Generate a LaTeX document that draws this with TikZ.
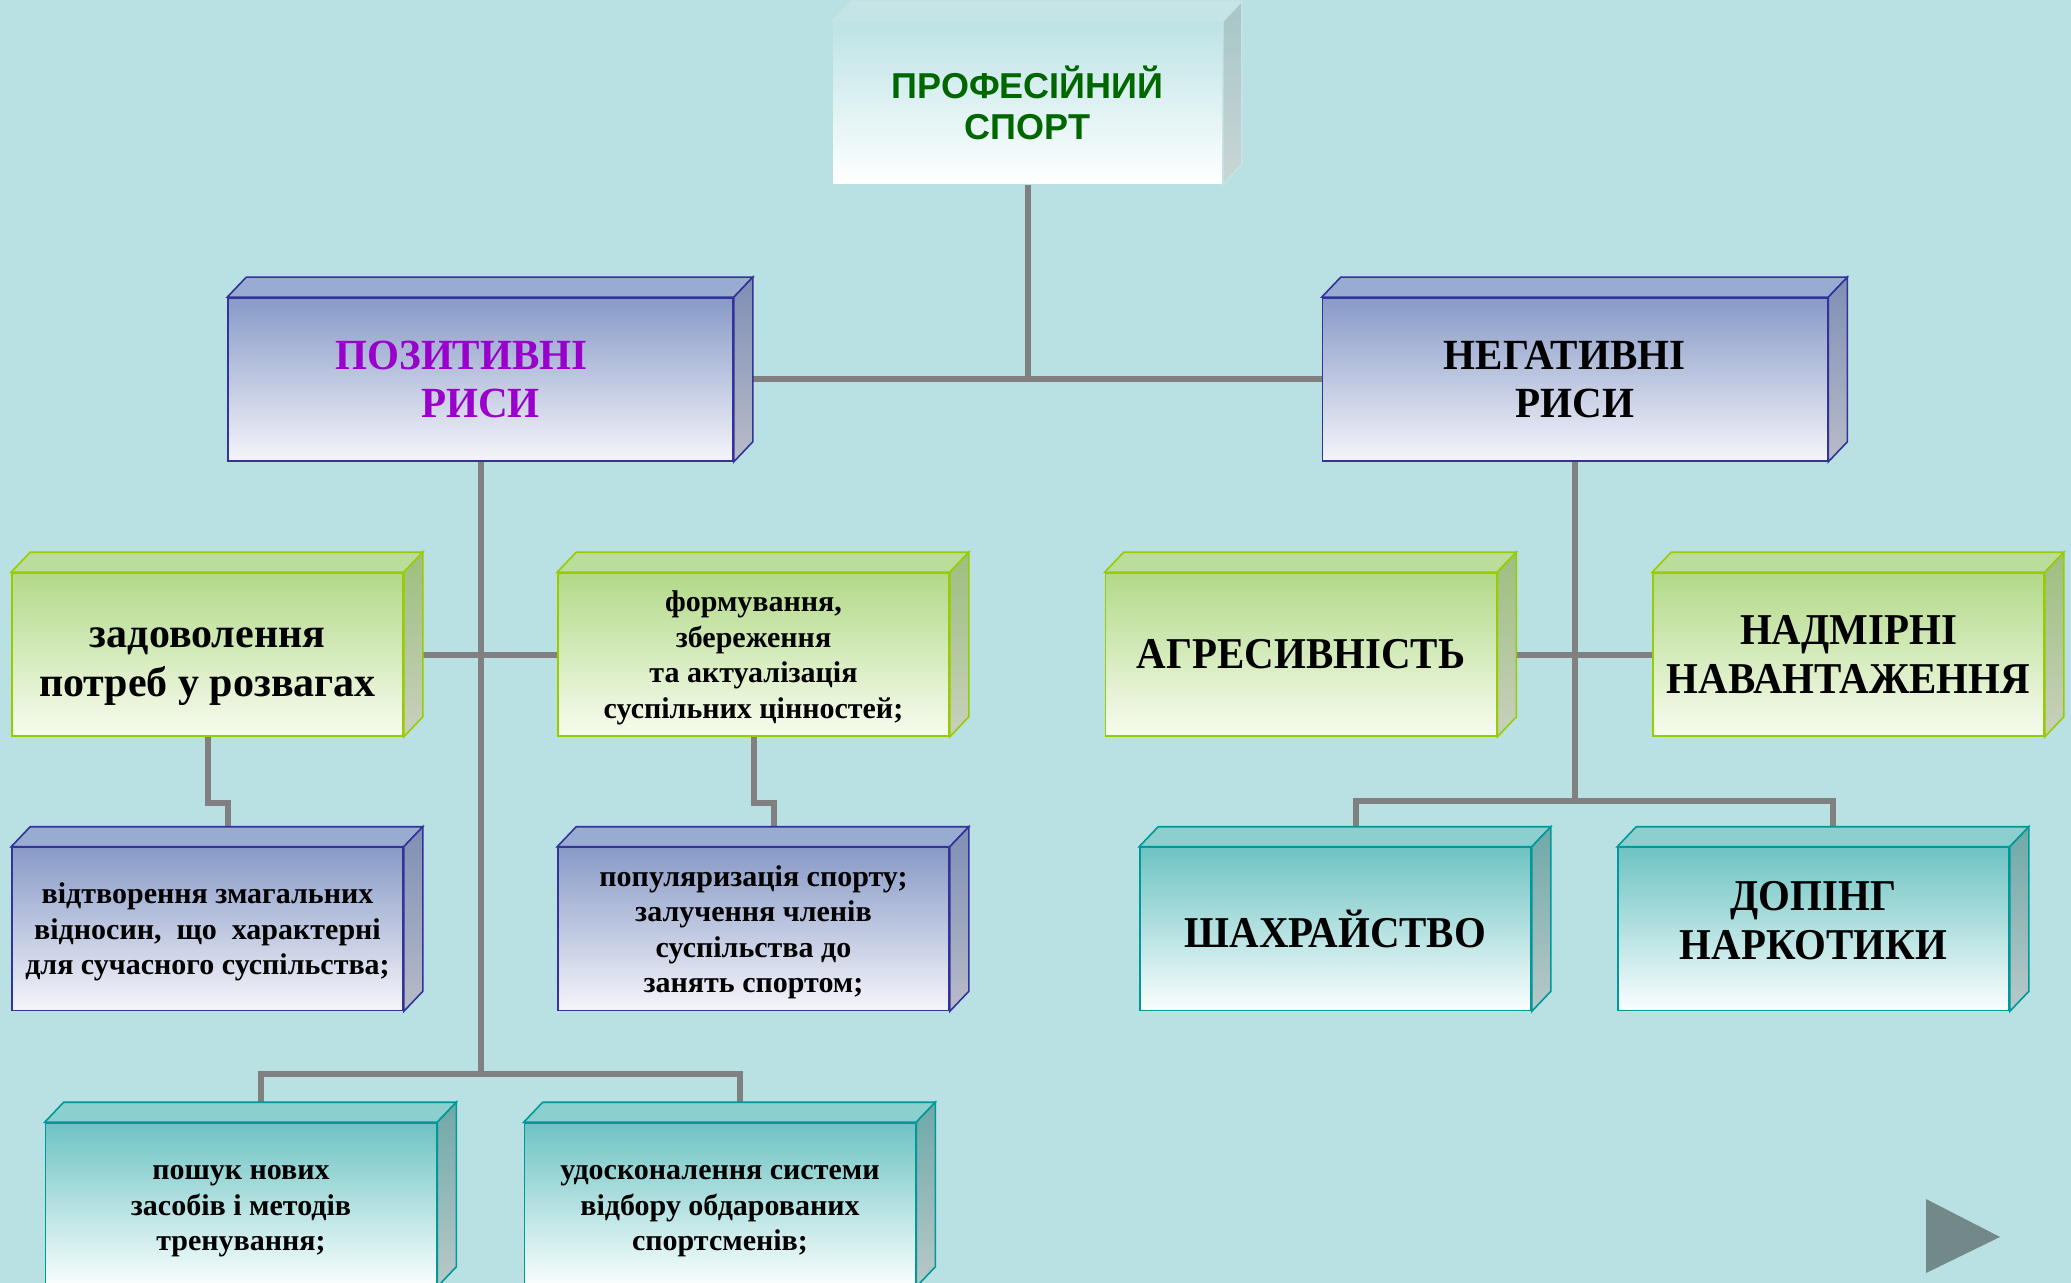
\documentclass[tikz,border=0pt]{standalone}
\usepackage{fontspec}
\setmainfont{Liberation Serif}
\newfontfamily\arialfont{Liberation Sans}
\newfontfamily\headfont[FakeStretch=0.955]{Liberation Serif}
\newfontfamily\capsfont[FakeStretch=0.93]{Liberation Serif}
\usetikzlibrary{calc}
\definecolor{slidebg}{HTML}{B9E0E3}
\definecolor{linkgray}{HTML}{808080}
\definecolor{navgray}{HTML}{738989}
\definecolor{ttltext}{HTML}{006600}
\definecolor{posviolet}{HTML}{9900CC}
% title box
\definecolor{ttledge}{HTML}{C4E4E6}
\definecolor{ttlhi}{HTML}{BDE3E5}
\definecolor{ttllo}{HTML}{FFFFFF}
\definecolor{ttltop}{HTML}{C4E4E6}
\definecolor{ttlside}{HTML}{A6C6C7}
\definecolor{ttlsidelo}{HTML}{CAD6D6}
% green boxes
\definecolor{grnedge}{HTML}{99CC00}
\definecolor{grnhi}{HTML}{B2D988}
\definecolor{grnlo}{HTML}{F8FCF0}
\definecolor{grntop}{HTML}{BADD9C}
\definecolor{grnside}{HTML}{9DBF7D}
\definecolor{grnsidelo}{HTML}{C9D0BF}
% blue boxes
\definecolor{bluedge}{HTML}{333399}
\definecolor{bluhi}{HTML}{889AC7}
\definecolor{blulo}{HTML}{F5F5FA}
\definecolor{blutop}{HTML}{98ACD1}
\definecolor{bluside}{HTML}{7E8EB5}
\definecolor{blusidelo}{HTML}{B9BCC8}
% teal boxes
\definecolor{tealedge}{HTML}{009999}
\definecolor{tealhi}{HTML}{6EC3C3}
\definecolor{teallo}{HTML}{FAFEFE}
\definecolor{tealtop}{HTML}{8BCFCF}
\definecolor{tealside}{HTML}{6EA8A8}
\definecolor{tealsidelo}{HTML}{B9C9C9}
\pgfdeclarelayer{background}
\pgfsetlayers{background,main}
\tikzstyle{link}=[linkgray,line width=3pt]
\tikzstyle{front}=[rectangle,inner sep=0pt,align=center,line width=0.8pt,
  minimum width=195.5pt,minimum height=81.5pt,
  font=\bfseries\fontsize{15}{17.75}\selectfont]
\tikzstyle{ttl}=[front,top color=ttlhi,bottom color=ttllo,minimum width=194.5pt,minimum height=81pt,
  font=\arialfont\bfseries\fontsize{18}{20.5}\selectfont,text=ttltext]
\tikzstyle{grn}=[front,draw=grnedge,top color=grnhi,bottom color=grnlo]
\tikzstyle{blu}=[front,draw=bluedge,top color=bluhi,bottom color=blulo]
\tikzstyle{teal}=[front,draw=tealedge,top color=tealhi,bottom color=teallo]
\tikzstyle{wide}=[minimum width=252.5pt,font=\headfont\bfseries\fontsize{21.5}{24}\selectfont]
\tikzstyle{big}=[font=\bfseries\fontsize{21}{24.5}\selectfont]
\tikzstyle{caps}=[font=\capsfont\bfseries\fontsize{22}{24.5}\selectfont]
% box with a top and a side face: [extra]{kind}{name}{at}{text}
\newcommand\cuboid[5][]{{
  \node[#2,#1] (#3) at (#4) {#5};
  \draw[#2edge,line width=0.8pt,fill=#2top]
    (#3.north west) -- ++(19,-20) -- ($(#3.north east)+(19,-20)$) -- (#3.north east) -- cycle;
  \draw[#2edge,line width=0.8pt,top color=#2side,bottom color=#2sidelo]
    (#3.north east) -- ++(19,-20) -- ($(#3.south east)+(19,-20)$) -- (#3.south east) -- cycle;
}}
\begin{document}
\begin{tikzpicture}[x=0.5pt,y=-0.5pt]
  \useasboundingbox (0,0) rectangle (2071,1283);
  \clip (0,0) rectangle (2071,1283);
  \begin{pgfonlayer}{background}
    \fill[slidebg] (0,0) rectangle (2071,1283);
  \end{pgfonlayer}

  % TOP
  \cuboid{ttl}{sport}{1027.5,103}{ПРОФЕСІЙНИЙ\\СПОРТ}
  \cuboid[wide,text=posviolet]{blu}{pos}{480.5,379.5}{ПОЗИТИВНІ\hspace*{19pt}\\РИСИ}
  \cuboid[wide]{blu}{neg}{1575,379.5}{НЕГАТИВНІ\hspace*{10.5pt}\\РИСИ}

  % POSITIVE
  \cuboid[big,text height=42.2pt,text depth=0pt]{grn}{fun}{207.5,654.5}{задоволення\\потреб у розвагах}
  \cuboid[text depth=0pt]{grn}{values}{753.5,654.5}{формування,\\збереження\\та актуалізація\\суспільних цінностей;}
  \cuboid[text depth=0pt]{blu}{compete}{207.5,929}{відтворення змагальних\\відносин,\ \ що\ \ характерні\\для сучасного суспільства;}
  \cuboid[text depth=0pt]{blu}{popular}{753.5,929}{популяризація спорту;\\залучення членів\\суспільства до\\занять спортом;}
  \cuboid[text height=46.4pt,text depth=0pt]{teal}{search}{241,1204.5}{пошук нових\\засобів і методів\\тренування;}
  \cuboid[text height=46.4pt,text depth=0pt]{teal}{select}{720,1204.5}{удосконалення системи\\відбору обдарованих\\спортсменів;}

  % NEGATIVE
  \cuboid[caps]{grn}{aggr}{1301,654.5}{АГРЕСИВНІСТЬ}
  \cuboid[caps]{grn}{overload}{1848.5,654.5}{НАДМІРНІ\\НАВАНТАЖЕННЯ}
  \cuboid[caps]{teal}{cheat}{1335.5,929}{ШАХРАЙСТВО}
  \cuboid[caps,text depth=9pt]{teal}{doping}{1813.5,929}{ДОПІНГ\\НАРКОТИКИ}

  \coordinate (posfork) at (480.5,1074); % split to bottom row
  \coordinate (negfork) at (1575,801);   % split to right row

  % LINKS
  \begin{pgfonlayer}{background}
    \draw[link] (sport) -- (sport |- pos);
    \draw[link] (pos) -- (neg);
    \draw[link] (pos) -- (posfork);
    \draw[link] (fun) -- (values);
    \draw[link] (fun.south) -- ++(0,66) -| ($(compete.north)+(20,0)$);
    \draw[link] (values.south) -- ++(0,66) -| ($(popular.north)+(20,0)$);
    \draw[link] ($(search.north)+(20,0)$) |- (posfork) -| ($(select.north)+(20,0)$);
    \draw[link] (neg) -- (negfork);
    \draw[link] (aggr) -- (overload);
    \draw[link] ($(cheat.north)+(20,0)$) |- (negfork) -| ($(doping.north)+(19,0)$);
  \end{pgfonlayer}

  \fill[navgray] (1926,1199) -- (2000,1237) -- (1926,1273) -- cycle; % next
\end{tikzpicture}
\end{document}
